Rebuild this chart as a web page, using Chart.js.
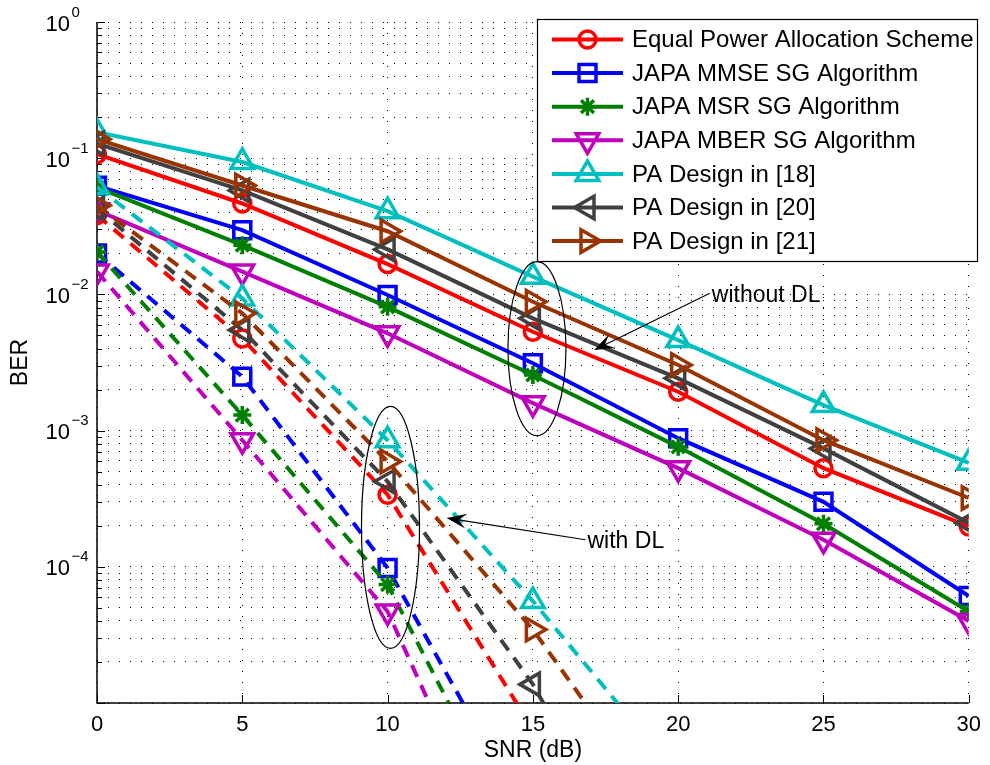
<!DOCTYPE html>
<html>
<head>
<meta charset="utf-8">
<title>BER vs SNR</title>
<script src="https://cdn.jsdelivr.net/npm/chart.js@4.4.1/dist/chart.umd.min.js"></script>
<style>
  body { margin: 0; background: #fff; }
  #wrap { width: 990px; height: 765px; }
</style>
</head>
<body>
<div id="wrap"><canvas id="berChart" width="990" height="765"></canvas></div>
<script>
// x values (dB)
const snr = [0, 5, 10, 15, 20, 25, 30];

// without DL (solid curves)
const equalPA = [0.107, 0.0465, 0.0167, 0.00532, 0.00193, 5.3e-4, 1.98e-4];
const japaMmse = [0.0627, 0.0296, 0.0099, 0.00312, 8.8e-4, 3.0e-4, 6.1e-5];
const japaMsr = [0.061, 0.023, 0.0081, 0.00256, 7.6e-4, 2.07e-4, 4.7e-5];
const japaMber = [0.0415, 0.0147, 0.00518, 0.00159, 5.3e-4, 1.58e-4, 4.0e-5];
const pa18 = [0.155, 0.0938, 0.0408, 0.0135, 0.00462, 0.00154, 5.8e-4];
const pa20 = [0.128, 0.058, 0.0214, 0.00667, 0.00242, 7.4e-4, 2.1e-4];
const pa21 = [0.138, 0.063, 0.0291, 0.00883, 0.00303, 8.5e-4, 3.2e-4];

// with DL (dashed curves), values below 1e-5 fall off the plot
const equalPADL = [0.0382, 0.00475, 3.38e-4, 6.4e-6, null, null, null];
const japaMmseDL = [0.02, 0.00249, 9.8e-5, 1.2e-6, null, null, null];
const japaMsrDL = [0.0205, 0.0013, 7.4e-5, 6.3e-7, null, null, null];
const japaMberDL = [0.0147, 8.5e-4, 4.7e-5, 2.1e-7, null, null, null];
const pa18DL = [0.0613, 0.00935, 8.5e-4, 5.6e-5, 2.9e-6, null, null];
const pa20DL = [0.0427, 0.00547, 4.23e-4, 1.37e-5, 1.7e-7, null, null];
const pa21DL = [0.045, 0.00726, 5.93e-4, 3.46e-5, 1.1e-6, null, null];

const seriesNames = [
  'Equal Power Allocation Scheme',
  'JAPA MMSE SG Algorithm',
  'JAPA MSR SG Algorithm',
  'JAPA MBER SG Algorithm',
  'PA Design in [18]',
  'PA Design in [20]',
  'PA Design in [21]'
];

// tick labels
const xTicks = [0, 5, 10, 15, 20, 25, 30];
const yDecades = [1, 0.1, 0.01, 0.001, 0.0001];
const yExponents = ['0', '\u22121', '\u22122', '\u22123', '\u22124'];

// styles
const seriesColors = ['#ff0000', '#0000ff', '#007f00', '#bf00bf', '#00bfbf', '#404040', '#993300'];
const seriesMarkers = ['circle', 'rect', 'star', 'triangle', 'triangle', 'triangle', 'triangle'];
const markerRotation = [0, 0, 0, 180, 0, 270, 90];
const markerRadius = [8.5, 12, 9, 13, 13, 13, 13];
const FONT = "'Liberation Sans', Arial, sans-serif";

Chart.defaults.font.family = FONT;

// grid values for the log axis: 1..9 in each decade
const yGrid = [];
for (let e = -5; e < 0; e++) {
  for (let m = 1; m < 10; m++) yGrid.push(m * Math.pow(10, e));
}
yGrid.push(1);

const solidSets = [equalPA, japaMmse, japaMsr, japaMber, pa18, pa20, pa21];
const dlSets = [equalPADL, japaMmseDL, japaMsrDL, japaMberDL, pa18DL, pa20DL, pa21DL];

function makeSet(vals, i, dashed, order) {
  return {
    label: seriesNames[i] + (dashed ? ' (with DL)' : ''),
    data: snr.map((x, k) => ({ x: x, y: vals[k] })),
    borderColor: seriesColors[i],
    borderWidth: 4,
    borderDash: dashed ? [13, 9] : [],
    pointStyle: seriesMarkers[i],
    pointRotation: markerRotation[i],
    pointRadius: markerRadius[i],
    pointHoverRadius: markerRadius[i],
    pointBorderWidth: 3.5,
    pointBorderColor: seriesColors[i],
    pointBackgroundColor: 'rgba(0,0,0,0)',
    tension: 0,
    fill: false,
    order: order
  };
}

const datasets = [];
solidSets.forEach((v, i) => datasets.push(makeSet(v, i, false, 20 - i)));
dlSets.forEach((v, i) => datasets.push(makeSet(v, i, true, 10 - i)));

// annotations (data coordinates, sizes in px)
const ellipseNotes = [
  { x: 15.14, y: 4.0e-3, rx: 29, ry: 87 },
  { x: 10.1, y: 1.95e-4, rx: 29, ry: 121 }
];
const arrowNotes = [
  { text: 'without DL', from: [21.09, 1.02e-2], to: [17.11, 3.9e-3] },
  { text: 'with DL', from: [16.81, 1.58e-4], to: [12.03, 2.28e-4] }
];

function drawArrow(ctx, x0, y0, x1, y1) {
  const dx = x1 - x0, dy = y1 - y0;
  const len = Math.hypot(dx, dy);
  const ux = dx / len, uy = dy / len, nx = -uy, ny = ux;
  const L = 20, W = 7.5;
  ctx.beginPath();
  ctx.moveTo(x0, y0);
  ctx.lineTo(x1 - ux * L * 0.6, y1 - uy * L * 0.6);
  ctx.stroke();
  ctx.beginPath();
  ctx.moveTo(x1, y1);
  ctx.lineTo(x1 - ux * L + nx * W, y1 - uy * L + ny * W);
  ctx.lineTo(x1 - ux * L * 0.6, y1 - uy * L * 0.6);
  ctx.lineTo(x1 - ux * L - nx * W, y1 - uy * L - ny * W);
  ctx.closePath();
  ctx.fill();
}

const matlabDecor = {
  id: 'matlabDecor',
  beforeDraw(chart) {
    const ctx = chart.ctx;
    ctx.save();
    ctx.fillStyle = '#fff';
    ctx.fillRect(0, 0, chart.width, chart.height);
    ctx.restore();
  },
  beforeDatasetsDraw(chart) {
    const { ctx, chartArea: a, scales: { x, y } } = chart;
    ctx.save();
    ctx.strokeStyle = '#000';
    ctx.lineWidth = 1.5;
    ctx.setLineDash([]);
    ctx.beginPath();
    ctx.moveTo(a.left, a.top);
    ctx.lineTo(a.left, a.bottom);
    ctx.lineTo(a.right, a.bottom);
    ctx.stroke();
    // inward ticks
    ctx.lineWidth = 1;
    ctx.beginPath();
    yGrid.forEach(v => {
      const py = Math.round(y.getPixelForValue(v)) + 0.5;
      const major = Math.abs(Math.log10(v) - Math.round(Math.log10(v))) < 1e-9;
      ctx.moveTo(a.left, py);
      ctx.lineTo(a.left + (major ? 8 : 5), py);
    });
    xTicks.forEach(v => {
      const px = Math.round(x.getPixelForValue(v)) + 0.5;
      ctx.moveTo(px, a.bottom);
      ctx.lineTo(px, a.bottom - 8);
    });
    ctx.stroke();
    // y tick labels with exponents
    ctx.fillStyle = '#000';
    ctx.textBaseline = 'middle';
    yDecades.forEach((v, i) => {
      const py = y.getPixelForValue(v);
      ctx.font = '22px ' + FONT;
      ctx.textAlign = 'right';
      ctx.fillText('10', 70, py + 2.5);
      ctx.font = '15px ' + FONT;
      ctx.textAlign = 'left';
      ctx.fillText(yExponents[i], 71.5, py - 9.5);
    });
    ctx.restore();
  },
  afterDatasetsDraw(chart) {
    const { ctx, scales: { x, y } } = chart;
    ctx.save();
    ctx.strokeStyle = '#000';
    ctx.fillStyle = '#000';
    ctx.lineWidth = 1.2;
    ctx.setLineDash([]);
    ellipseNotes.forEach(e => {
      ctx.beginPath();
      ctx.ellipse(x.getPixelForValue(e.x), y.getPixelForValue(e.y), e.rx, e.ry, 0, 0, Math.PI * 2);
      ctx.stroke();
    });
    ctx.font = '23px ' + FONT;
    ctx.textAlign = 'left';
    ctx.textBaseline = 'middle';
    arrowNotes.forEach(n => {
      const x0 = x.getPixelForValue(n.from[0]), y0 = y.getPixelForValue(n.from[1]);
      const x1 = x.getPixelForValue(n.to[0]), y1 = y.getPixelForValue(n.to[1]);
      drawArrow(ctx, x0, y0, x1, y1);
      ctx.fillText(n.text, x0 + 2, y0 + 2);
    });

    // legend box
    const box = { left: 537.5, top: 19.5, right: 977.5, bottom: 261.5 };
    ctx.fillStyle = '#fff';
    ctx.fillRect(box.left, box.top, box.right - box.left, box.bottom - box.top);
    ctx.strokeStyle = '#000';
    ctx.lineWidth = 1.2;
    ctx.strokeRect(box.left, box.top, box.right - box.left, box.bottom - box.top);
    seriesNames.forEach((name, i) => {
      const ly = 39.5 + i * 33.6;
      ctx.strokeStyle = seriesColors[i];
      ctx.lineWidth = 4;
      ctx.beginPath();
      ctx.moveTo(552, ly);
      ctx.lineTo(623, ly);
      ctx.stroke();
      ctx.lineWidth = 3.5;
      ctx.fillStyle = 'rgba(0,0,0,0)';
      Chart.helpers.drawPoint(ctx, {
        pointStyle: seriesMarkers[i],
        rotation: markerRotation[i],
        radius: markerRadius[i],
        borderWidth: 3.5
      }, 587.5, ly);
      ctx.fillStyle = '#000';
      ctx.font = '24px ' + FONT;
      ctx.textAlign = 'left';
      ctx.textBaseline = 'middle';
      ctx.fillText(name, 632, ly + 1);
    });
    ctx.restore();
  }
};

new Chart(document.getElementById('berChart'), {
  type: 'line',
  data: { datasets: datasets },
  plugins: [matlabDecor],
  options: {
    responsive: false,
    animation: false,
    devicePixelRatio: 1,
    layout: { padding: { top: 22, right: 17, left: 0, bottom: 0 } },
    plugins: { legend: { display: false }, tooltip: { enabled: false } },
    scales: {
      x: {
        type: 'linear',
        min: 0,
        max: 30,
        afterFit: s => { s.height = 62; },
        afterBuildTicks: s => { s.ticks = xTicks.map(v => ({ value: v })); },
        ticks: { color: '#000', font: { size: 22 }, padding: 9, maxRotation: 0, autoSkip: false },
        grid: { color: '#000', lineWidth: 1, drawTicks: false },
        border: { display: false, dash: [1, 10] },
        title: { display: true, text: 'SNR (dB)', color: '#000', font: { size: 23 }, padding: { top: 0, bottom: 1 } }
      },
      y: {
        type: 'logarithmic',
        min: 1e-5,
        max: 1,
        afterFit: s => { s.width = 97; },
        afterBuildTicks: s => { s.ticks = yGrid.map(v => ({ value: v })); },
        ticks: { display: false },
        grid: { color: '#000', lineWidth: 1, drawTicks: false },
        border: { display: false, dash: [1, 10] },
        title: { display: true, text: 'BER', color: '#000', font: { size: 23 }, padding: { top: 7, bottom: 0 } }
      }
    }
  }
});
</script>
</body>
</html>
